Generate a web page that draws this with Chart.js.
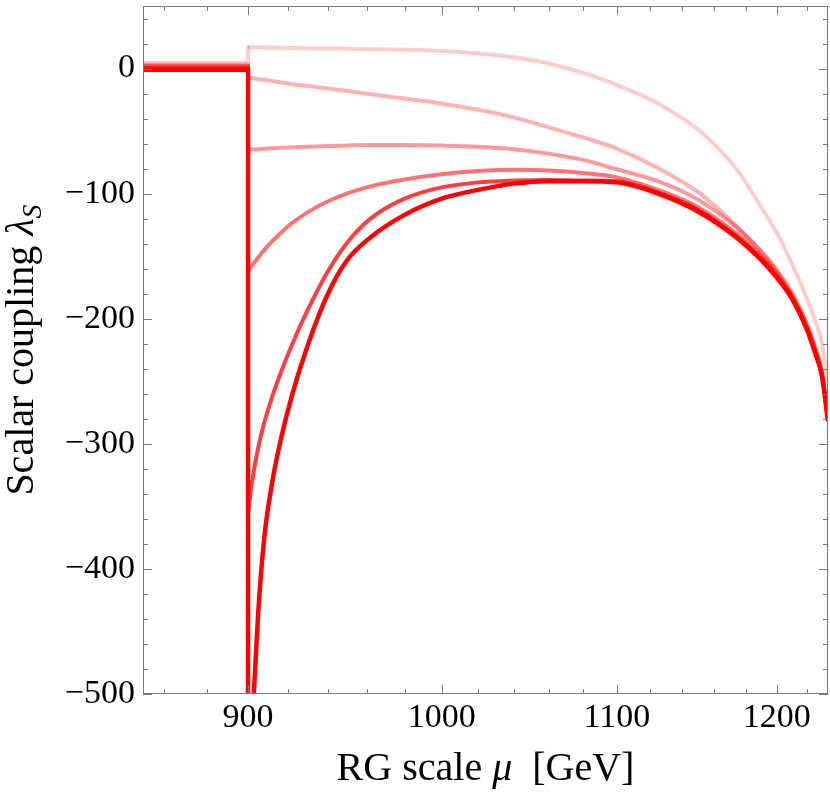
<!DOCTYPE html>
<html>
<head>
<meta charset="utf-8">
<script src="https://cdn.jsdelivr.net/npm/chart.js@4.4.0/dist/chart.umd.min.js"></script>
<style>
  html, body { margin: 0; padding: 0; background: #fff; }
  #wrap { width: 830px; height: 794px; }
</style>
</head>
<body>
<div id="wrap"><canvas id="c" width="830" height="794"></canvas></div>
<script>
// Running of the scalar coupling.
// Below threshold (850-900 GeV) every curve sits near zero, then jumps at 900.
const muFlat = [850, 900];
const lamFlat = [4.5, 3, 2, 1, 0, -1];

// grid of RG scales (GeV) above the threshold
const mu = [900, 902, 905, 908, 912, 916, 922, 930, 940, 950, 962, 980, 1000, 1020,
            1040, 1060, 1080, 1100, 1125, 1150, 1175, 1190, 1200, 1210, 1220, 1225, 1230, 1234];

const lam1 = [17, 17, 17, 17, 16.8, 16.6, 16.4, 16.2, 16, 15.8, 15.5, 15, 14, 12,
              9, 4, -3.5, -13, -28, -49, -82, -111, -131, -156, -184, -200, -220, -252];
const lam2 = [-7, -7.5, -8.5, -9, -10, -11, -12.5, -14, -16, -18, -20.5, -24, -28, -33,
              -39, -47, -55, -64, -79.5, -99, -127, -147, -162, -181, -204, -221, -243, -280];
const lam3 = [-65, -64.8, -64.5, -64.2, -63.8, -63.4, -63, -62.5, -62, -61.5, -61.2, -61.2, -61.6, -62.5,
              -64.5, -68, -73, -80.5, -90, -105, -128, -146, -161, -179, -205, -222, -244, -280];
const lam4 = [-162, -157.5, -151, -145, -138, -131.6, -123.3, -114.6, -106.1, -99.8, -94.2, -88.7, -84.5, -82,
              -81, -81.5, -83.5, -87, -97, -111, -133, -150, -164, -182, -207, -224, -245, -281];
const lam5 = [-355, -330, -303, -283, -262, -244, -220, -192, -162, -139, -120, -104, -95, -91,
              -89.5, -89, -89.5, -90, -99, -113, -135, -152, -166, -183, -208, -225, -246, -281];
const lam6 = [-600, -525, -435, -375, -330, -298, -260, -220, -180, -153, -135, -117, -104, -97,
              -92, -90, -90, -91, -100, -114.5, -136, -153, -167, -184, -209, -226, -246, -282];

const curves = [lam1, lam2, lam3, lam4, lam5, lam6];
const alphas = [0.2, 0.3, 0.4, 0.55, 0.75, 1];

const xMajor = [900, 1000, 1100, 1200];
const xMinor = [860, 880, 920, 940, 960, 980, 1020, 1040, 1060, 1080, 1120, 1140, 1160, 1180, 1220];
const yMajor = [0, -100, -200, -300, -400, -500];
const yMinor = [40, 20, -20, -40, -60, -80, -120, -140, -160, -180, -220, -240, -260, -280,
                -320, -340, -360, -380, -420, -440, -460, -480];

const serif = '"Liberation Serif", "DejaVu Serif", serif';

// frame with inward ticks on all four sides, plus the axis titles
const framePlugin = {
    id: 'frame',
    afterDatasetsDraw(chart) {
        const { ctx, chartArea: a, scales: { x, y } } = chart;
        ctx.save();
        ctx.strokeStyle = '#7a7a7a';
        ctx.lineWidth = 1;
        ctx.strokeRect(a.left + 0.5, a.top + 0.5, a.right - a.left - 1, a.bottom - a.top - 1);
        ctx.beginPath();
        const xt = (v, len) => {
            const px = Math.round(x.getPixelForValue(v)) + 0.5;
            ctx.moveTo(px, a.bottom); ctx.lineTo(px, a.bottom - len);
            ctx.moveTo(px, a.top); ctx.lineTo(px, a.top + len);
        };
        const yt = (v, len) => {
            const py = Math.round(y.getPixelForValue(v)) + 0.5;
            ctx.moveTo(a.left, py); ctx.lineTo(a.left + len, py);
            ctx.moveTo(a.right, py); ctx.lineTo(a.right - len, py);
        };
        xMajor.forEach(v => xt(v, 9));
        xMinor.forEach(v => xt(v, 5));
        yMajor.forEach(v => yt(v, 9));
        yMinor.forEach(v => yt(v, 5));
        ctx.stroke();
        ctx.restore();
    },
    afterDraw(chart) {
        const { ctx, chartArea: a } = chart;
        ctx.save();
        ctx.fillStyle = '#000';
        ctx.textBaseline = 'alphabetic';

        // x title: RG scale μ  [GeV]
        const up = '40px ' + serif, it = 'italic 40px ' + serif;
        const parts = [['RG scale ', up], ['\u03bc', it], ['  [GeV]', up]];
        let w = 0;
        parts.forEach(p => { ctx.font = p[1]; w += ctx.measureText(p[0]).width; });
        let cx = (a.left + a.right) / 2 - w / 2;
        parts.forEach(p => { ctx.font = p[1]; ctx.fillText(p[0], cx, 780); cx += ctx.measureText(p[0]).width; });

        // y title: Scalar coupling λ_S
        ctx.translate(33, (a.top + a.bottom) / 2);
        ctx.rotate(-Math.PI / 2);
        const yparts = [['Scalar coupling ', up, 0], ['\u03bb', it, 0], ['S', 'italic 28px ' + serif, 8]];
        w = 0;
        yparts.forEach(p => { ctx.font = p[1]; w += ctx.measureText(p[0]).width; });
        cx = -w / 2;
        yparts.forEach(p => { ctx.font = p[1]; ctx.fillText(p[0], cx, p[2]); cx += ctx.measureText(p[0]).width; });
        ctx.restore();
    }
};

// each curve = a straight step part (flat + jump at 900) and a smooth part
const datasets = [];
curves.forEach((arr, i) => {
    const color = 'rgba(255,0,0,' + alphas[i] + ')';
    const width = i === 5 ? 4.5 : 4;
    datasets.push({
        label: 'step ' + (i + 1),
        data: [
            { x: muFlat[0], y: lamFlat[i] },
            { x: muFlat[1], y: lamFlat[i] },
            { x: mu[0], y: arr[0] }
        ],
        borderColor: color,
        borderWidth: width,
        borderJoinStyle: 'miter',
        borderCapStyle: 'square',
        pointRadius: 0,
        fill: false,
        tension: 0,
        order: 5 - i
    });
    datasets.push({
        label: 'curve ' + (i + 1),
        data: mu.map((m, j) => ({ x: m, y: arr[j] })),
        borderColor: color,
        borderWidth: width,
        borderCapStyle: 'butt',
        pointRadius: 0,
        fill: false,
        cubicInterpolationMode: 'monotone',
        order: 5 - i
    });
});

new Chart(document.getElementById('c'), {
    type: 'line',
    data: { datasets },
    options: {
        responsive: false,
        animation: false,
        layout: { padding: { top: 6, right: 2, left: 0, bottom: 0 } },
        plugins: { legend: { display: false }, tooltip: { enabled: false } },
        scales: {
            x: {
                type: 'logarithmic',
                min: 850,
                max: 1234,
                bounds: 'data',
                grid: { display: false, drawTicks: false },
                border: { display: false },
                afterBuildTicks: s => { s.ticks = xMajor.map(v => ({ value: v })); },
                afterFit: s => { s.height = 100; s.paddingLeft = 0; s.paddingRight = 0; },
                ticks: {
                    color: '#000',
                    font: { family: serif, size: 34 },
                    padding: 4,
                    autoSkip: false,
                    maxRotation: 0,
                    callback: v => String(v)
                }
            },
            y: {
                type: 'linear',
                min: -500,
                max: 50,
                grid: { display: false, drawTicks: false },
                border: { display: false },
                afterBuildTicks: s => { s.ticks = yMajor.map(v => ({ value: v })); },
                afterFit: s => { s.width = 143; s.paddingTop = 0; s.paddingBottom = 0; },
                ticks: {
                    color: '#000',
                    font: { family: serif, size: 34 },
                    padding: 8,
                    callback: v => (v < 0 ? '\u2212' + Math.abs(v) : String(v))
                }
            }
        }
    },
    plugins: [framePlugin]
});
</script>
</body>
</html>
